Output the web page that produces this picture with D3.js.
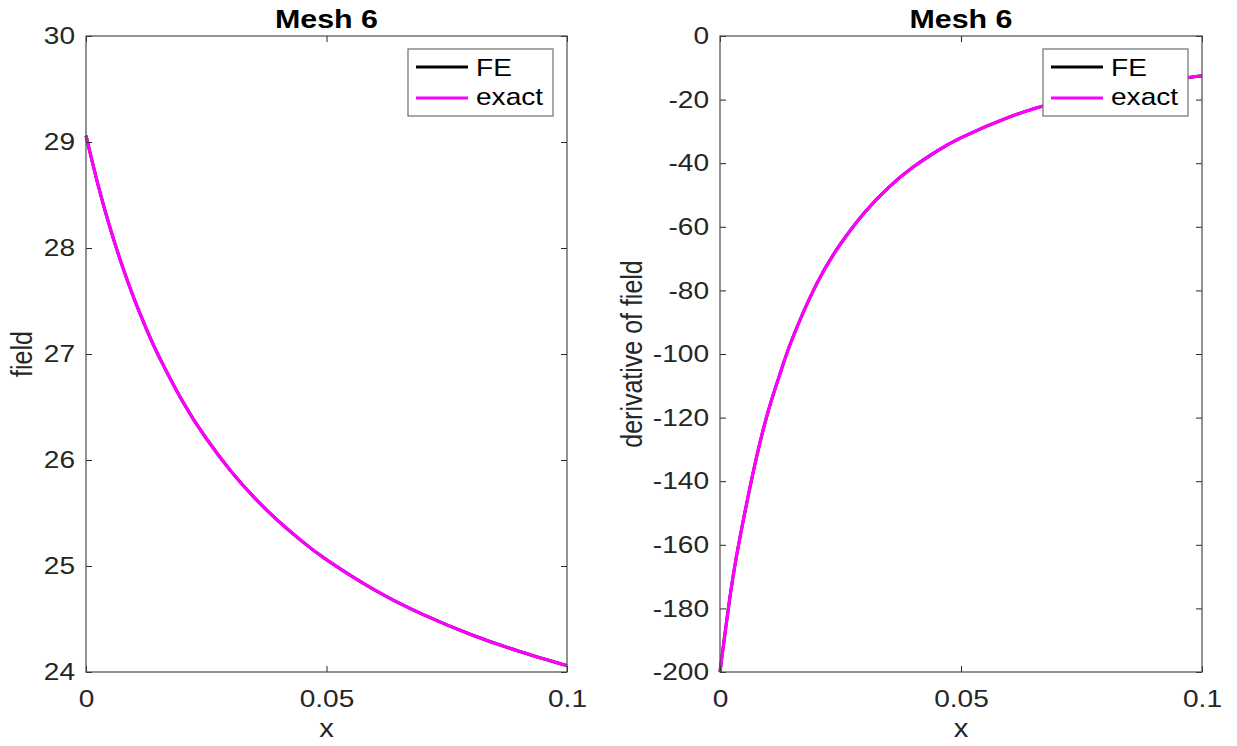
<!DOCTYPE html>
<html>
<head>
<meta charset="utf-8">
<script src="https://cdn.jsdelivr.net/npm/d3@7"></script>
<style>
  html, body { margin: 0; padding: 0; background: #fff; }
  svg text { font-family: "Liberation Sans", Arial, Helvetica, sans-serif; }
</style>
</head>
<body>
<svg id="chart" width="1237" height="746"></svg>
<script>
// Sample positions along x
const xValues = [0, 0.0025, 0.005, 0.0075, 0.01, 0.0125, 0.015, 0.02, 0.025, 0.03,
                 0.035, 0.04, 0.045, 0.05, 0.06, 0.07, 0.08, 0.09, 0.1];

// Field: exact solution and finite-element solution (coincide at this scale)
const fieldExact = [29.060, 28.596, 28.191, 27.836, 27.522, 27.242, 26.991, 26.560, 26.203, 25.902,
                    25.645, 25.424, 25.230, 25.060, 24.774, 24.544, 24.354, 24.196, 24.060];
const fieldFE    = [29.060, 28.596, 28.191, 27.836, 27.522, 27.242, 26.991, 26.560, 26.203, 25.902,
                    25.645, 25.424, 25.230, 25.060, 24.774, 24.544, 24.354, 24.196, 24.060];

// Derivative of the field: exact and finite-element
const derivExact = [-200, -172, -151, -133, -118, -106, -95.2, -78.1, -65.4, -55.5,
                    -47.6, -41.3, -36.2, -32.0, -25.5, -20.8, -17.3, -14.6, -12.5];
const derivFE    = [-200, -172, -151, -133, -118, -106, -95.2, -78.1, -65.4, -55.5,
                    -47.6, -41.3, -36.2, -32.0, -25.5, -20.8, -17.3, -14.6, -12.5];

// Tick values
const xTicks = [0, 0.05, 0.1];
const fieldTicks = [24, 25, 26, 27, 28, 29, 30];
const derivTicks = [-200, -180, -160, -140, -120, -100, -80, -60, -40, -20, 0];

const seriesNames = ["FE", "exact"];
const seriesColors = ["#000000", "#ff00ff"];

const svg = d3.select("#chart");
const STRETCH = 1.17;          // horizontal widening of glyphs
const AXIS_COLOR = "#262626";
const TOP = 36, BOTTOM = 672;

function stretchedText(g, x, y, str, opts = {}) {
  return g.append("text")
    .attr("x", x / STRETCH)
    .attr("y", y)
    .attr("transform", `scale(${STRETCH},1)`)
    .attr("text-anchor", opts.anchor || "start")
    .attr("font-size", opts.size || 24)
    .attr("font-weight", opts.weight || "normal")
    .attr("fill", opts.fill || AXIS_COLOR)
    .text(str);
}

function drawPanel(cfg) {
  const x = d3.scaleLinear().domain([0, 0.1]).range([cfg.left, cfg.right]);
  const y = d3.scaleLinear().domain(cfg.yDomain).range([BOTTOM, TOP]);
  const g = svg.append("g");

  // Curves: FE underneath, exact on top
  const line = (vals) => d3.line()
    .x((d, i) => x(xValues[i]))
    .y(d => y(d))
    .curve(d3.curveNatural)(vals);

  g.append("path").attr("d", line(cfg.fe))
    .attr("fill", "none").attr("stroke", seriesColors[0]).attr("stroke-width", 3);
  g.append("path").attr("d", line(cfg.exact))
    .attr("fill", "none").attr("stroke", seriesColors[1]).attr("stroke-width", 3.2)
    .attr("stroke-linejoin", "round");

  // Bottom axis with labels (ticks pointing inward)
  const bottom = g.append("g").attr("transform", `translate(0,${BOTTOM})`)
    .call(d3.axisBottom(x).tickValues(xTicks).tickSize(-6).tickSizeOuter(0).tickPadding(18)
      .tickFormat(d => d === 0 ? "0" : String(+d.toFixed(2))));
  // Left axis with labels
  const leftAx = g.append("g").attr("transform", `translate(${cfg.left},0)`)
    .call(d3.axisLeft(y).tickValues(cfg.yTicks).tickSize(-6).tickSizeOuter(0).tickPadding(9.4)
      .tickFormat(d => String(d)));
  // Top and right axes: ticks only
  const topAx = g.append("g").attr("transform", `translate(0,${TOP})`)
    .call(d3.axisTop(x).tickValues(xTicks).tickSize(-6).tickSizeOuter(0).tickFormat(""));
  const rightAx = g.append("g").attr("transform", `translate(${cfg.right},0)`)
    .call(d3.axisRight(y).tickValues(cfg.yTicks).tickSize(-6).tickSizeOuter(0).tickFormat(""));

  [bottom, leftAx, topAx, rightAx].forEach(a => {
    a.select(".domain").remove();
    a.selectAll(".tick line").attr("stroke", AXIS_COLOR).attr("stroke-width", 1);
    a.selectAll(".tick text")
      .attr("font-size", 24)
      .attr("fill", AXIS_COLOR)
      .attr("font-family", "Liberation Sans, Arial, sans-serif")
      .attr("transform", `scale(${STRETCH},1)`);
  });

  // Axes box
  g.append("rect")
    .attr("x", cfg.left).attr("y", TOP)
    .attr("width", cfg.right - cfg.left).attr("height", BOTTOM - TOP)
    .attr("fill", "none").attr("stroke", "#4a4a4a").attr("stroke-width", 1.2);

  // Title
  const cx = (cfg.left + cfg.right) / 2;
  stretchedText(g, cx, 28, cfg.title, { anchor: "middle", size: 26, weight: "bold", fill: "#000" });

  // x label
  stretchedText(g, cx, 737, "x", { anchor: "middle", size: 25 });

  // y label (rotated)
  g.append("text")
    .attr("transform", `translate(${cfg.yLabelX},${(TOP + BOTTOM) / 2}) rotate(-90) scale(1,${STRETCH})`)
    .attr("text-anchor", "middle")
    .attr("font-size", 25)
    .attr("fill", AXIS_COLOR)
    .text(cfg.yLabel);

  // Legend
  const lw = 145, lh = 67;
  const lx = cfg.right - 14 - lw, ly = 49;
  const leg = g.append("g");
  leg.append("rect").attr("x", lx).attr("y", ly).attr("width", lw).attr("height", lh)
    .attr("fill", "#fff").attr("stroke", "#6e6e6e").attr("stroke-width", 1.2);
  const rowY = [67, 98];
  const baseY = [75.8, 105.5];
  seriesNames.forEach((name, i) => {
    leg.append("line")
      .attr("x1", lx + 8).attr("x2", lx + 60)
      .attr("y1", rowY[i]).attr("y2", rowY[i])
      .attr("stroke", seriesColors[i]).attr("stroke-width", 3);
    stretchedText(leg, lx + 68, baseY[i], name, { size: 24, fill: "#000" });
  });
}

drawPanel({
  left: 86, right: 567,
  yDomain: [24, 30], yTicks: fieldTicks,
  exact: fieldExact, fe: fieldFE,
  title: "Mesh 6", yLabel: "field", yLabelX: 31.5
});

drawPanel({
  left: 720, right: 1202,
  yDomain: [-200, 0], yTicks: derivTicks,
  exact: derivExact, fe: derivFE,
  title: "Mesh 6", yLabel: "derivative of field", yLabelX: 642
});
</script>
</body>
</html>
